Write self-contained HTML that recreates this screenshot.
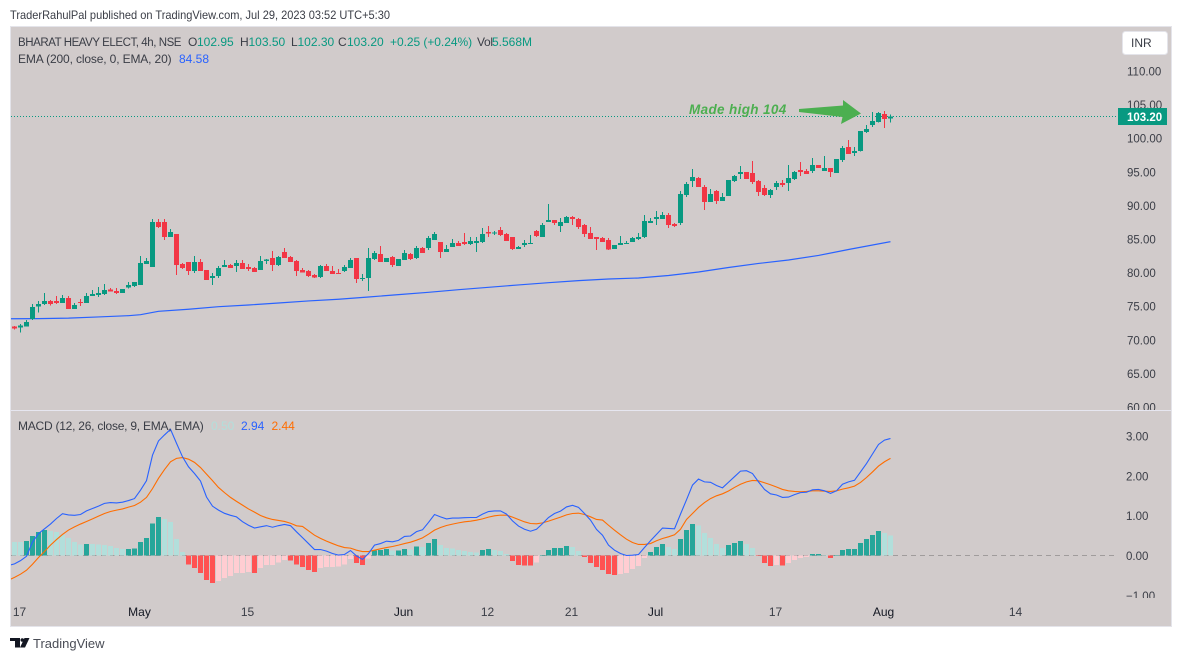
<!DOCTYPE html>
<html>
<head>
<meta charset="utf-8">
<title>BHEL 4h chart</title>
<style>
html,body{margin:0;padding:0;background:#fff;width:1182px;height:661px;overflow:hidden}
svg{display:block}
text{font-family:"Liberation Sans",sans-serif;font-size:12px;fill:#3a3d46}
</style>
</head>
<body>
<svg id="chart" xmlns="http://www.w3.org/2000/svg" width="1182" height="661" viewBox="0 0 1182 661">
  <defs>
    <clipPath id="pane-clip"><rect x="11" y="27" width="1160" height="599"/></clipPath>
    <clipPath id="price-label-clip"><rect x="1118" y="27" width="53" height="383"/></clipPath>
    <clipPath id="macd-label-clip"><rect x="1118" y="411" width="53" height="187"/></clipPath>
  </defs>
  <text x="10" y="19" textLength="380" lengthAdjust="spacingAndGlyphs">TraderRahulPal published on TradingView.com, Jul 29, 2023 03:52 UTC+5:30</text>
  <rect x="10.5" y="26.5" width="1161" height="600" fill="#d1cbcb" stroke="#e4e4ea"/>
  <line x1="11" x2="1171" y1="410.5" y2="410.5" stroke="#e6e6f0"/>
  <line x1="11" x2="1118" y1="116.5" y2="116.5" stroke="#089981" stroke-dasharray="1 2"/>
  <line x1="11" x2="1118" y1="555.5" y2="555.5" stroke="#a09c9c" stroke-dasharray="5 4"/>
  <g id="hist-layer" clip-path="url(#pane-clip)" shape-rendering="crispEdges"></g>
  <g id="macd-layer" clip-path="url(#pane-clip)"></g>
  <g id="ema-layer" clip-path="url(#pane-clip)"></g>
  <g id="candle-layer" clip-path="url(#pane-clip)" shape-rendering="crispEdges"></g>

  <text y="46"><tspan x="18" style="font-size:11.5px;letter-spacing:-.44px">BHARAT HEAVY ELECT, 4h, NSE</tspan><tspan x="188">O</tspan><tspan x="197" fill="#089981">102.95</tspan><tspan x="240">H</tspan><tspan x="248.500" fill="#089981">103.50</tspan><tspan x="291">L</tspan><tspan x="297.500" fill="#089981">102.30</tspan><tspan x="338">C</tspan><tspan x="347" fill="#089981">103.20</tspan><tspan x="390" fill="#089981" style="letter-spacing:-.05px">+0.25 (+0.24%)</tspan><tspan x="477" style="letter-spacing:-.3px">Vol</tspan><tspan x="492" fill="#089981">5.568M</tspan></text>
  <text y="63"><tspan x="18" style="letter-spacing:-.14px">EMA (200, close, 0, EMA, 20)</tspan><tspan x="179" fill="#2962ff">84.58</tspan></text>
  <text y="430"><tspan x="18" style="letter-spacing:-.24px">MACD (12, 26, close, 9, EMA, EMA)</tspan><tspan x="211" fill="#b2dfdb">0.50</tspan><tspan x="241" fill="#2962ff">2.94</tspan><tspan x="271.500" fill="#ff6d00">2.44</tspan></text>

  <text x="689" y="114" style="font-size:13.5px;font-style:italic;font-weight:bold;fill:#4caf50;letter-spacing:.35px">Made high 104</text>
  <polygon points="799,109 843,105.500 843,100 861,113.500 841,124 842.500,117 799,112" fill="#4caf50"/>

  <g id="price-axis" clip-path="url(#price-label-clip)"></g>
  <g id="macd-axis" clip-path="url(#macd-label-clip)"></g>
  <g id="time-axis"></g>

  <rect x="1118" y="108" width="49" height="17" fill="#089981"/>
  <text x="1127" y="121" style="fill:#fff;font-weight:bold;font-size:11.5px">103.20</text>
  <rect x="1122.500" y="31.500" width="45" height="23" rx="3" fill="#fff" stroke="#e4e4ea"/>
  <text x="1131" y="47">INR</text>

  <g fill="#131722">
    <polygon points="10,638 20,638 20,647.500 15,647.500 15,641 10,641"/>
    <circle cx="22.300" cy="640" r="1.800"/>
    <polygon points="24.500,638 29.500,638 25,647.500 20,647.500"/>
  </g>
  <text x="33" y="648" style="font-size:13px;fill:#4a4d56">TradingView</text>
</svg>
<script>
const candleOpen = [
71.95,71.80,71.95,73.09,74.93,75.32,75.77,75.77,75.47,76.22,
74.58,75.62,75.47,76.52,76.66,76.81,77.46,77.26,76.96,77.76,
78.00,78.15,81.28,80.83,87.53,87.53,85.29,85.74,81.28,81.57,
80.24,81.57,80.38,79.19,79.49,80.83,81.13,80.98,81.43,80.83,
80.68,80.38,81.72,82.17,81.13,83.06,82.32,81.72,80.39,80.24,
79.64,79.34,80.98,80.24,79.94,80.24,80.68,82.17,79.05,79.20,
82.02,82.77,81.58,82.32,80.98,81.87,82.77,82.17,83.66,83.66,
84.85,84.55,83.06,83.81,84.40,84.55,84.25,84.40,84.55,86.04,
85.79,86.34,85.74,85.29,83.51,84.11,84.25,86.19,85.29,87.53,
87.83,86.93,87.38,88.27,87.97,87.08,85.89,85.29,85.15,84.85,
83.51,84.11,84.25,84.55,85.00,85.30,87.38,87.97,87.97,88.57,
87.23,87.38,91.55,93.63,94.08,92.73,90.50,92.14,90.65,91.40,
93.63,94.67,94.97,94.82,93.63,92.59,91.55,92.73,93.33,93.33,
93.93,95.27,95.12,95.12,96.01,95.12,95.56,94.82,96.75,98.69,
97.80,98.10,100.92,101.96,102.41,103.60,102.95];
const candleClose = [
71.65,72.10,72.65,74.88,75.32,75.77,75.32,75.47,76.22,74.58,
75.18,75.57,76.52,76.81,76.96,77.41,77.16,76.96,77.56,78.15,
78.60,81.43,81.72,87.53,86.78,85.29,86.04,81.13,80.68,80.24,
81.57,80.24,78.90,79.49,80.68,81.13,80.68,81.43,80.53,80.53,
80.09,81.72,81.92,81.13,82.32,82.17,81.57,80.24,79.99,79.49,
79.25,80.98,80.24,79.79,79.79,80.83,81.87,79.05,79.20,82.17,
82.92,81.58,82.17,81.13,82.02,82.92,82.02,83.66,82.92,85.15,
85.74,83.06,83.51,84.40,83.96,84.25,84.70,84.70,85.74,85.79,
85.94,85.59,84.70,83.51,83.81,84.40,84.40,85.45,87.08,87.83,
87.38,87.53,88.27,87.97,86.78,85.74,85.00,85.00,84.55,83.46,
84.11,84.40,84.40,85.15,85.30,87.68,87.68,88.27,88.57,87.08,
86.93,91.69,93.18,94.22,92.73,90.50,91.69,90.65,91.25,93.78,
94.37,94.97,93.93,93.48,91.99,91.55,92.29,93.33,93.03,94.08,
94.97,94.97,94.67,96.01,95.56,95.56,94.97,96.90,98.54,97.65,
98.09,101.07,101.37,102.56,103.75,102.86,103.20];
const candleHigh = [
72.05,72.35,72.94,75.32,75.77,76.96,75.92,76.52,76.66,76.52,
75.47,76.07,76.96,77.41,77.85,78.30,77.71,77.71,77.56,78.60,
78.60,82.47,82.17,87.97,87.97,87.97,86.48,85.74,81.43,81.57,
82.47,82.02,80.38,79.94,80.98,81.87,81.28,81.87,81.87,81.28,
80.83,82.47,82.02,83.21,82.47,83.66,82.47,81.87,80.68,80.39,
79.79,81.13,81.28,80.98,80.53,81.13,82.17,82.17,79.79,83.66,
83.21,83.96,82.17,82.47,82.02,83.36,82.92,83.96,83.81,85.45,
86.04,84.55,84.11,85.00,84.70,85.89,85.29,85.29,86.64,86.93,
86.19,86.78,85.89,85.29,83.96,84.85,85.59,86.34,87.38,90.21,
87.83,88.12,88.42,88.42,88.12,87.23,86.78,85.29,85.30,85.15,
84.11,85.45,84.70,85.30,85.89,88.57,88.12,89.17,89.02,88.87,
87.38,92.14,93.48,95.41,94.22,93.03,92.44,92.29,91.84,93.78,
94.52,95.86,94.97,96.61,93.78,93.03,92.44,93.63,93.78,96.01,
95.12,96.46,95.41,97.05,96.01,97.35,95.56,96.90,98.84,99.73,
98.69,101.07,101.96,103.90,103.90,104.05,103.50];
const candleLow = [
71.56,71.06,71.95,72.94,74.04,75.18,75.08,75.32,75.47,74.58,
74.58,75.03,75.47,76.52,76.37,76.66,77.16,76.81,76.96,77.61,
77.85,78.15,81.28,80.83,86.63,84.85,85.29,79.64,80.53,79.64,
79.94,80.24,78.90,78.15,79.19,80.83,80.68,80.09,80.53,80.24,
80.09,80.38,81.28,80.24,80.98,82.17,81.57,79.49,79.99,79.34,
79.20,79.20,80.24,79.79,79.79,80.09,80.68,78.45,78.75,77.26,
81.87,81.58,81.58,80.83,80.98,81.87,81.87,82.02,82.92,83.36,
84.85,82.17,83.06,83.81,83.96,84.11,84.11,83.06,84.40,85.29,
85.59,85.45,84.70,83.36,83.51,83.81,84.25,85.29,85.29,87.53,
87.08,86.04,87.38,87.08,86.49,85.29,85.00,83.36,84.55,83.36,
83.51,84.11,84.25,84.55,84.85,85.15,87.38,87.08,87.97,86.64,
86.78,87.08,91.25,92.73,92.73,89.31,90.50,90.21,90.65,91.40,
93.48,93.93,93.93,93.18,91.40,91.40,91.10,92.29,92.73,92.14,
93.78,94.37,94.67,94.82,95.56,95.12,94.22,94.82,96.46,97.65,
97.35,98.00,100.77,101.67,102.37,101.52,102.30];

const emaBars = [-1,4,9,14,19,21,24,29,34,39,44,49,54,59,64,69,74,79,84,89,94,99,104,109,114,119,124,129,134,139,146];
const emaValues = [73.13,73.15,73.22,73.40,73.59,73.74,74.24,74.55,74.93,75.18,75.48,75.78,76.03,76.37,76.72,77.07,77.46,77.81,78.16,78.50,78.80,79.05,79.20,79.57,80.09,80.76,81.36,81.88,82.55,83.44,84.60];

const macdHist = [
.34,.335,.36,.49,.59,.64,.61,.59,.51,.44,
.335,.28,.29,.285,.28,.26,.235,.185,.16,.165,
.17,.335,.435,.81,.97,.92,.84,.41,.085,-.22,
-.32,-.44,-.62,-.695,-.645,-.57,-.52,-.445,-.44,-.42,
-.445,-.32,-.24,-.235,-.17,-.115,-.12,-.22,-.29,-.37,
-.42,-.32,-.29,-.285,-.28,-.22,-.09,-.19,-.24,-.07,
.13,.135,.16,.12,.125,.16,.145,.22,.215,.31,
.41,.26,.185,.18,.135,.11,.085,.08,.135,.16,
.135,.11,.035,-.14,-.24,-.245,-.25,-.17,.01,.135,
.185,.19,.235,.21,.11,-.04,-.19,-.29,-.37,-.47,
-.495,-.47,-.445,-.345,-.27,-.065,.085,.21,.285,.21,
.16,.41,.64,.79,.76,.56,.435,.285,.185,.26,
.31,.36,.285,.185,-.005,-.19,-.27,-.24,-.245,-.19,
-.115,-.065,-.04,.035,.04,0,-.065,.01,.135,.16,
.165,.31,.41,.51,.61,.56,.50];

/* lines start one bar before the first candle (bar index -1) */
const macdLine = [
-.25,-.21,-.13,-.02,.335,.55,.67,.79,.93,1.05,1.02,
1.01,1.03,1.12,1.18,1.24,1.31,1.33,1.32,1.34,1.38,
1.43,1.64,1.88,2.52,2.88,3.03,3.17,2.82,2.48,2.23,
2.06,1.87,1.47,1.24,1.14,1.06,1.01,.97,.85,.76,
.69,.72,.75,.71,.75,.78,.75,.595,.45,.30,
.15,.15,.11,.05,.01,.025,.125,-.01,-.10,.05,
.26,.30,.36,.345,.38,.48,.49,.60,.645,.83,
1.03,.97,.92,.94,.94,.95,.955,.955,1.04,1.105,
1.12,1.12,1.04,.87,.74,.66,.61,.66,.80,.955,
1.055,1.115,1.22,1.26,1.21,1.055,.89,.655,.51,.26,
.134,.05,0,.008,.025,.20,.37,.53,.69,.68,
.67,1.04,1.40,1.77,1.92,1.85,1.84,1.76,1.70,1.84,
1.98,2.12,2.13,2.06,1.85,1.66,1.55,1.52,1.46,1.467,
1.53,1.58,1.59,1.65,1.66,1.625,1.56,1.625,1.79,1.85,
1.89,2.10,2.31,2.55,2.79,2.90,2.94];
const signalLine = [
-.62,-.55,-.47,-.37,-.22,-.05,.10,.26,.40,.53,.64,
.72,.79,.855,.92,.99,1.056,1.106,1.14,1.17,1.215,
1.257,1.34,1.46,1.68,1.94,2.16,2.355,2.44,2.46,2.42,
2.34,2.21,2.045,1.88,1.71,1.58,1.46,1.36,1.265,1.17,
1.09,1.005,.947,.905,.88,.855,.81,.746,.73,.62,
.51,.43,.36,.30,.243,.20,.185,.134,.10,.10,
.134,.168,.20,.226,.26,.30,.335,.385,.444,.536,
.637,.704,.754,.788,.82,.846,.863,.888,.92,.964,
.997,1.014,1.014,.964,.905,.846,.804,.796,.82,.863,
.913,.964,1.02,1.055,1.064,1.03,.972,.905,.89,.76,
.637,.52,.41,.327,.277,.277,.30,.37,.427,.47,
.52,.66,.905,1.056,1.207,1.33,1.43,1.50,1.55,1.62,
1.71,1.79,1.85,1.885,1.877,1.827,1.777,1.72,1.66,1.625,
1.61,1.60,1.61,1.625,1.625,1.617,1.61,1.625,1.667,1.70,
1.743,1.835,1.96,2.10,2.246,2.355,2.44];

const priceTicks = [110,105,100,95,90,85,80,75,70,65,60];
const macdTicks = [3,2,1,0,-1];
const timeLabels = ["17","May","15","Jun","12","21","Jul","17","Aug","14"];
const timeBars = [0,20,38,64,78,92,106,126,144,166];

const NS = "http://www.w3.org/2000/svg";
function priceY(p){ return 71 + (110 - p) * 6.72; }
function macdY(v){ return 555.5 - v * 39.8; }
function barX(i){ return 14.5 + 6 * i; }
function make(tag, attrs, parent){
  const el = document.createElementNS(NS, tag);
  for (const k in attrs) el.setAttribute(k, attrs[k]);
  parent.appendChild(el);
  return el;
}

const candleLayer = document.getElementById("candle-layer");
candleOpen.forEach(function(o, i){
  const c = candleClose[i];
  const up = c >= o;
  const col = up ? "#089981" : "#f23645";
  const x = barX(i);
  const g = make("g", {}, candleLayer);
  
  
  make("rect", {x: x - 0.5, y: priceY(candleHigh[i]), width: 1, height: Math.max(1, priceY(candleLow[i]) - priceY(candleHigh[i])), fill: col}, g);
  const top = priceY(Math.max(o, c));
  const h = Math.max(1, Math.abs(priceY(o) - priceY(c)));
  make("rect", {x: x - 2.5, y: top, width: 5, height: h, fill: col}, g);
});

function linePath(indexOf, values, yFn){
  return values.map(function(v, k){
    return (k ? "L" : "M") + barX(indexOf(k)).toFixed(1) + " " + yFn(v).toFixed(2);
  }).join(" ");
}

const emaPath = make("path", {d: linePath(function(k){ return emaBars[k]; }, emaValues, priceY), fill: "none", stroke: "#2962ff", "stroke-width": 1.2}, document.getElementById("ema-layer"));



const histLayer = document.getElementById("hist-layer");
macdHist.forEach(function(v, i){
  const prev = i ? macdHist[i - 1] : v + 0.01;
  const rising = v > prev;
  const col = v >= 0 ? (rising ? "#26a69a" : "#b2dfdb") : (rising ? "#ffcdd2" : "#ff5252");
  const y0 = macdY(0), y1 = macdY(v);
  const bar = make("rect", {x: barX(i) - 2.5, y: Math.min(y0, y1), width: 5, height: Math.max(0.5, Math.abs(y1 - y0)), fill: col}, histLayer);
  
  
});

const macdLayer = document.getElementById("macd-layer");
const sigPath = make("path", {d: linePath(function(k){ return k - 1; }, signalLine, macdY), fill: "none", stroke: "#ff6d00", "stroke-width": 1.1}, macdLayer);


const macdPath = make("path", {d: linePath(function(k){ return k - 1; }, macdLine, macdY), fill: "none", stroke: "#2962ff", "stroke-width": 1.1}, macdLayer);



const priceAxis = document.getElementById("price-axis");
priceTicks.forEach(function(t){
  const el = make("text", {x: 1127, y: priceY(t) + 4.5, style: "font-size:11.5px"}, priceAxis);
  
  
  el.textContent = t.toFixed(2);
});
const macdAxis = document.getElementById("macd-axis");
macdTicks.forEach(function(t){
  const el = make("text", {x: 1126, y: macdY(t) + 4.5, style: "font-size:11.5px"}, macdAxis);
  
  
  el.textContent = (t < 0 ? "\u2212" : "") + Math.abs(t).toFixed(2);
});
const timeAxis = document.getElementById("time-axis");
timeLabels.forEach(function(t, i){
  const isMonth = isNaN(parseInt(t, 10));
  const el = make("text", {x: barX(timeBars[i]) + 5, y: 616, "text-anchor": "middle"}, timeAxis);
  
  
  if (isMonth) el.setAttribute("style", "fill:#131722");
  el.textContent = t;
});
</script>
</body>
</html>
